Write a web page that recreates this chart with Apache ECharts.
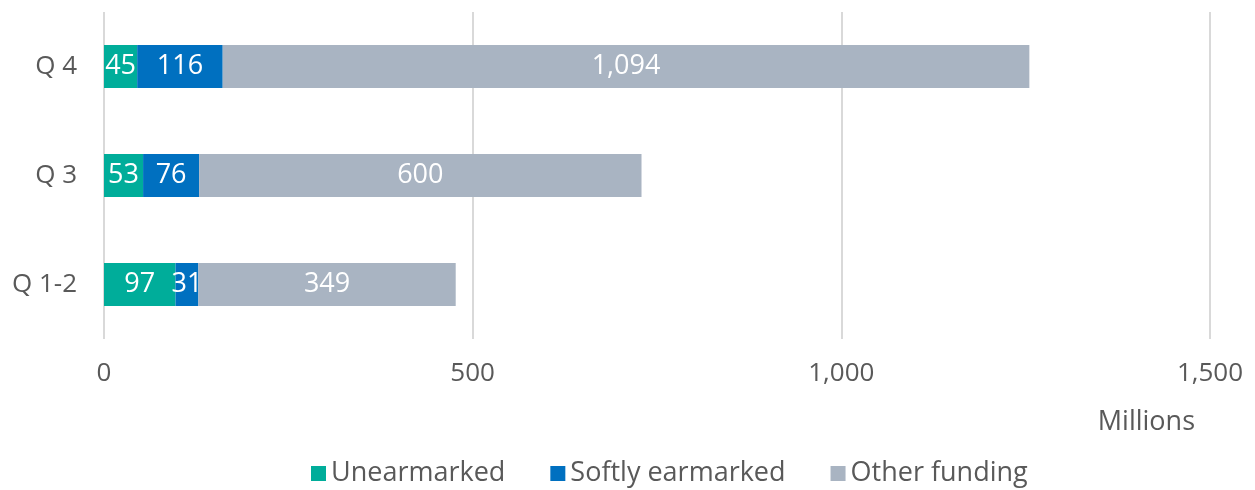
<!DOCTYPE html>
<html>
<head>
<meta charset="utf-8">
<script src="https://cdn.jsdelivr.net/npm/echarts@6/dist/echarts.min.js"></script>
<style>
  html, body { margin:0; padding:0; background:#fff; }
  #chart { width:1255px; height:490px; }
</style>
</head>
<body>
<div id="chart"></div>
<script>
const categories = ["Q 1-2", "Q 3", "Q 4"];
const unearmarked = [97, 53, 45];
const softlyEarmarked = [31, 76, 116];
const otherFunding = [349, 600, 1094];
const xTicks = [0, 500, 1000, 1500];

const FONT = "'Open Sans', sans-serif";
const TEXT = "#595959";

function fmt(v){ return v.toLocaleString("en-US"); }

function barSeries(name, data, color){
  return {
    name, type: "bar", stack: "total", data,
    barWidth: 43,
    itemStyle: { color },
    label: {
      show: true, position: "inside", color: "#fff",
      fontFamily: FONT, fontSize: 27,
      formatter: p => fmt(p.value)
    }
  };
}

const chart = echarts.init(document.getElementById("chart"));
chart.setOption({
  animation: false,
  textStyle: { fontFamily: FONT },
  grid: { left: 104, right: 45, top: 12, bottom: 151 },
  xAxis: {
    type: "value", min: xTicks[0], max: xTicks[xTicks.length-1], interval: 500,
    axisLine: { show: false }, axisTick: { show: false },
    splitLine: { lineStyle: { color: "#d9d9d9", width: 2 } },
    axisLabel: { color: TEXT, fontSize: 26, margin: 22, formatter: v => fmt(v) }
  },
  yAxis: {
    type: "category", data: categories,
    axisLine: { show: false }, axisTick: { show: false },
    axisLabel: { color: TEXT, fontSize: 26, margin: 27 }
  },
  legend: {
    top: 455, left: 306, itemWidth: 15, itemHeight: 15, itemGap: 45,
    icon: "rect",
    textStyle: { color: TEXT, fontSize: 27, fontFamily: FONT }
  },
  graphic: [{
    type: "text", right: 60, top: 409,
    style: { text: "Millions", fill: TEXT, font: "27px " + FONT }
  }],
  series: [
    barSeries("Unearmarked", unearmarked, "#00ad9a"),
    barSeries("Softly earmarked", softlyEarmarked, "#0070c0"),
    barSeries("Other funding", otherFunding, "#a9b4c2")
  ]
});
</script>
</body>
</html>
